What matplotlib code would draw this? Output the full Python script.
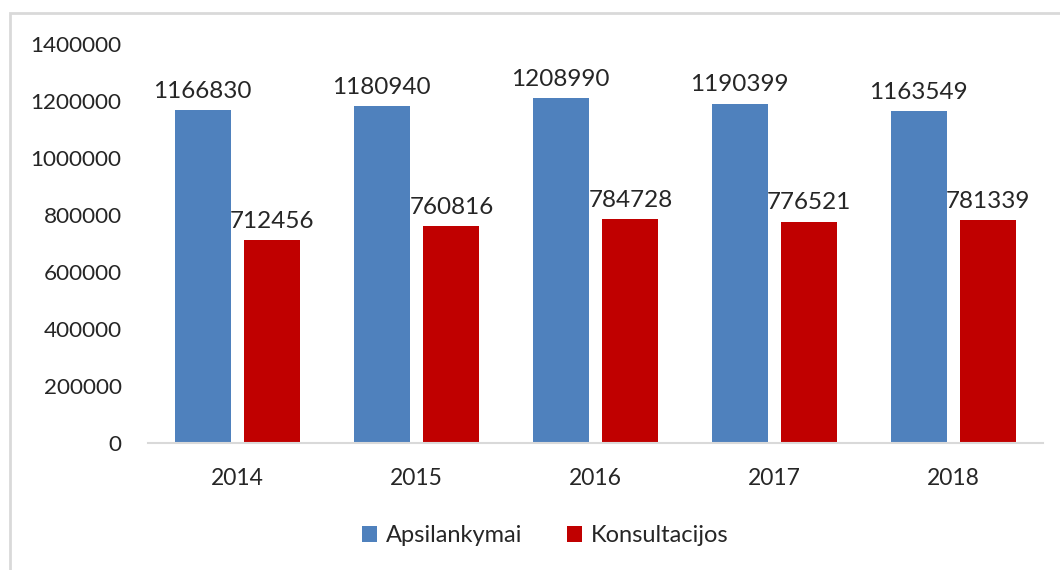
import matplotlib.pyplot as plt
import numpy as np
from matplotlib.patches import Rectangle

# data
years = ['2014', '2015', '2016', '2017', '2018']
apsilankymai = [1166830, 1180940, 1208990, 1190399, 1163549]
konsultacijos = [712456, 760816, 784728, 776521, 781339]

plt.rcParams['font.family'] = ['Lato', 'DejaVu Sans']

fig = plt.figure(figsize=(10.6, 5.7), dpi=100)
ax = fig.add_axes([148 / 1060, 1 - 443 / 570, (1043 - 148) / 1060, (443 - 44) / 570])

x = np.arange(len(years))
w = 0.313
off = 0.195
b1 = ax.bar(x - off, apsilankymai, w, color='#4F81BD', label='Apsilankymai')
b2 = ax.bar(x + off, konsultacijos, w, color='#C00000', label='Konsultacijos')

for bars in (b1, b2):
    ax.bar_label(bars, labels=[str(v) for v in bars.datavalues], padding=6,
                 fontsize=17.5, color='#262626')

ax.set_xlim(-0.5, len(years) - 0.5)
ax.set_ylim(0, 1400000)
ax.set_yticks(range(0, 1400001, 200000))
ax.set_yticklabels([str(v) for v in range(0, 1400001, 200000)])
ax.set_xticks(x)
ax.set_xticklabels(years)
ax.tick_params(axis='y', length=0, pad=19, labelsize=16.2, labelcolor='#262626')
ax.tick_params(axis='x', length=0, pad=18, labelsize=16.5, labelcolor='#262626')

for s in ['top', 'right', 'left']:
    ax.spines[s].set_visible(False)
ax.spines['bottom'].set_color('#D9D9D9')
ax.spines['bottom'].set_linewidth(1.5)

fig.legend(handles=[b1, b2], loc='center', bbox_to_anchor=(545 / 1060, 1 - 536 / 570),
           ncol=2, frameon=False, fontsize=17, handlelength=0.65, handleheight=0.65,
           columnspacing=1.9, handletextpad=0.35, labelcolor='#262626')

# outer chart border (cut off on right and bottom)
fig.patches.append(Rectangle((10 / 1060, -0.1), 1.2, 1 - 13 / 570 + 0.1,
                             transform=fig.transFigure, fill=False,
                             edgecolor='#D9D9D9', linewidth=2))

fig.savefig('out.png', dpi=100)
